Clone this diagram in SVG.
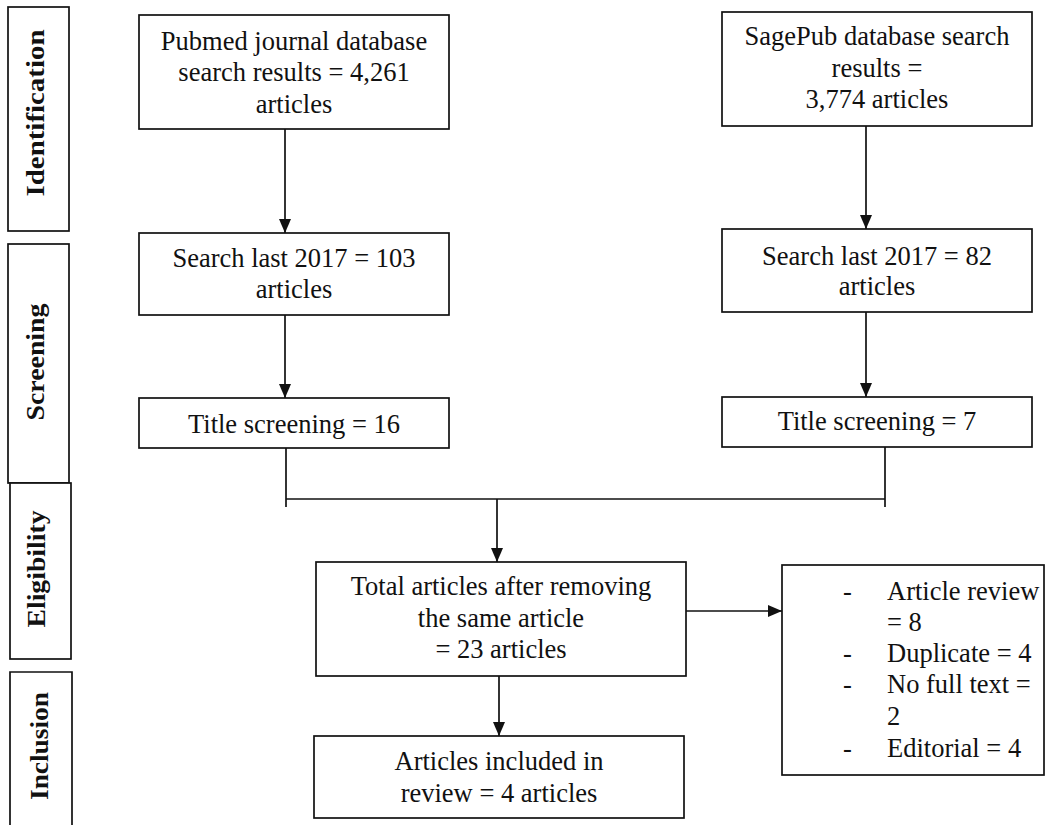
<svg xmlns="http://www.w3.org/2000/svg" width="1047" height="825" viewBox="0 0 1047 825">
  <defs>
    <style>
      .box { fill: #ffffff; stroke: #111111; stroke-width: 1.7; }
      .t { font-family: "Liberation Serif", "Times New Roman", serif; font-size: 26.5px; fill: #111111; text-anchor: middle; }
      .tl { font-family: "Liberation Serif", "Times New Roman", serif; font-size: 26.5px; fill: #111111; }
      .lab { font-family: "Liberation Serif", "Times New Roman", serif; font-size: 26px; font-weight: bold; fill: #111111; text-anchor: middle; }
      .conn { fill: none; stroke: #111111; stroke-width: 1.7; }
    </style>
    <marker id="arr" viewBox="0 0 14 12" refX="14" refY="6" markerWidth="14" markerHeight="12" markerUnits="userSpaceOnUse" orient="auto">
      <path d="M0,0 L14,6 L0,12 Z" fill="#111111"/>
    </marker>
  </defs>
  <rect width="1047" height="825" fill="#ffffff"/>

  <!-- Stage labels -->
  <g id="stage-identification">
    <rect class="box" x="8" y="7" width="61" height="224"/>
    <text class="lab" transform="translate(44,113) rotate(-90)" textLength="167" lengthAdjust="spacingAndGlyphs">Identification</text>
  </g>
  <g id="stage-screening">
    <rect class="box" x="8" y="244" width="61" height="239"/>
    <text class="lab" transform="translate(44,362) rotate(-90)" textLength="117" lengthAdjust="spacingAndGlyphs">Screening</text>
  </g>
  <g id="stage-eligibility">
    <rect class="box" x="10" y="483" width="61" height="176"/>
    <text class="lab" transform="translate(45,569) rotate(-90)" textLength="117" lengthAdjust="spacingAndGlyphs">Eligibility</text>
  </g>
  <g id="stage-inclusion">
    <path class="conn" d="M10,830 L10,672 L72,672 L72,830"/>
    <text class="lab" transform="translate(48,746) rotate(-90)" textLength="108" lengthAdjust="spacingAndGlyphs">Inclusion</text>
  </g>

  <!-- Connectors -->
  <g id="connectors">
    <line class="conn" x1="285" y1="129" x2="285" y2="233" marker-end="url(#arr)"/>
    <line class="conn" x1="285" y1="315" x2="285" y2="398" marker-end="url(#arr)"/>
    <line class="conn" x1="866" y1="126" x2="866" y2="229" marker-end="url(#arr)"/>
    <line class="conn" x1="866" y1="312" x2="866" y2="397" marker-end="url(#arr)"/>
    <line class="conn" x1="286" y1="448" x2="286" y2="507"/>
    <line class="conn" x1="885" y1="447" x2="885" y2="507"/>
    <line class="conn" x1="286" y1="499" x2="885" y2="499"/>
    <line class="conn" x1="497" y1="499" x2="497" y2="562" marker-end="url(#arr)"/>
    <line class="conn" x1="499" y1="676" x2="499" y2="736" marker-end="url(#arr)"/>
    <line class="conn" x1="686" y1="611" x2="782" y2="611" marker-end="url(#arr)"/>
  </g>

  <!-- Left column -->
  <g id="pubmed">
    <rect class="box" x="139" y="15" width="310" height="114"/>
    <text class="t" x="294" y="50">Pubmed journal database</text>
    <text class="t" x="294" y="81">search results = 4,261</text>
    <text class="t" x="294" y="113">articles</text>
  </g>
  <g id="pubmed-2017">
    <rect class="box" x="139" y="233" width="310" height="82"/>
    <text class="t" x="294" y="267">Search last 2017 = 103</text>
    <text class="t" x="294" y="298">articles</text>
  </g>
  <g id="pubmed-title">
    <rect class="box" x="139" y="398" width="310" height="50"/>
    <text class="t" x="294" y="433">Title screening = 16</text>
  </g>

  <!-- Right column -->
  <g id="sagepub">
    <rect class="box" x="722" y="12" width="310" height="114"/>
    <text class="t" x="877" y="45">SagePub database search</text>
    <text class="t" x="877" y="77">results =</text>
    <text class="t" x="877" y="108">3,774 articles</text>
  </g>
  <g id="sagepub-2017">
    <rect class="box" x="722" y="229" width="310" height="83"/>
    <text class="t" x="877" y="265">Search last 2017 = 82</text>
    <text class="t" x="877" y="295">articles</text>
  </g>
  <g id="sagepub-title">
    <rect class="box" x="722" y="397" width="310" height="50"/>
    <text class="t" x="877" y="430">Title screening = 7</text>
  </g>

  <!-- Merge -->
  <g id="total">
    <rect class="box" x="316" y="562" width="370" height="114"/>
    <text class="t" x="501" y="595">Total articles after removing</text>
    <text class="t" x="501" y="627">the same article</text>
    <text class="t" x="501" y="658">= 23 articles</text>
  </g>
  <g id="excluded">
    <rect class="box" x="782" y="565" width="262" height="210"/>
    <text class="tl" x="843" y="600">-</text>
    <text class="tl" x="887" y="600">Article review</text>
    <text class="tl" x="887" y="631">= 8</text>
    <text class="tl" x="843" y="662">-</text>
    <text class="tl" x="887" y="662">Duplicate = 4</text>
    <text class="tl" x="843" y="693">-</text>
    <text class="tl" x="887" y="693">No full text =</text>
    <text class="tl" x="887" y="725">2</text>
    <text class="tl" x="843" y="757">-</text>
    <text class="tl" x="887" y="757">Editorial = 4</text>
  </g>
  <g id="included">
    <rect class="box" x="314" y="736" width="370" height="82"/>
    <text class="t" x="499" y="770">Articles included in</text>
    <text class="t" x="499" y="802">review = 4 articles</text>
  </g>
</svg>
